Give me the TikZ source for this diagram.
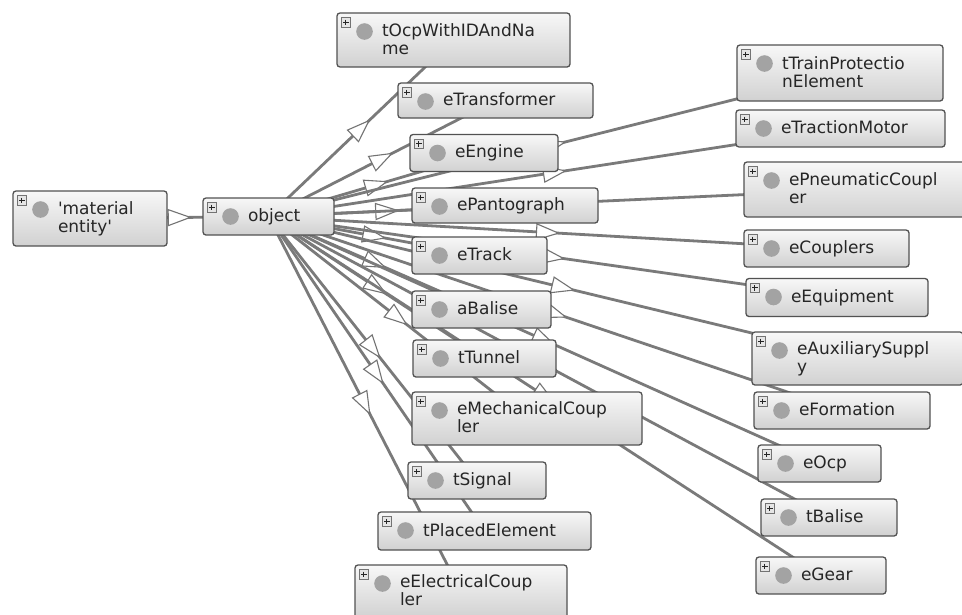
\documentclass[tikz,border=0pt]{standalone}
\usepackage{fontspec}
\newfontfamily\dv{DejaVu Sans}[Ligatures=TeXOff]
\usetikzlibrary{backgrounds,decorations.markings}
\newcommand{\zs}{\rule[-2pt]{0pt}{14pt}}
\newcommand{\nl}{\\\zs}
\newcommand{\ct}[2]{\hspace*{45pt}\parbox[c]{\dimexpr#1pt-45pt\relax}{\raggedright\zs #2}}
\tikzset{
  cls/.style={rectangle, rounded corners=3pt, draw=black!68, line width=1.3pt,
    top color=black!3, bottom color=black!18, inner sep=0pt,
    font={\dv\fontsize{17}{18}\selectfont}, text=black!85,
    path picture={
      \coordinate (pp) at (path picture bounding box.north west);
      \fill[black!36] ([shift={(27.5,18.5)}]pp) circle (8.3pt);
      \draw[sharp corners, black!55, fill=black!10, line width=0.6pt]
        ([shift={(4,4.5)}]pp) rectangle ([shift={(13.5,14)}]pp);
      \draw[sharp corners, black!85, line width=1pt]
        ([shift={(6,9.25)}]pp) -- ([shift={(11.5,9.25)}]pp)
        ([shift={(8.75,6.5)}]pp) -- ([shift={(8.75,12)}]pp);
    }},
  isa/.style={draw=black!52, line width=2.8pt, postaction={decorate},
    decoration={markings, mark=at position 0.5 with {
      \draw[black!55, fill=white, line width=1.1pt, line join=miter]
        (-11pt,-8pt) -- (11pt,0pt) -- (-11pt,8pt) -- cycle;}}}
}
\begin{document}
\begin{tikzpicture}[x=1pt,y=-1pt]
\useasboundingbox (0,0) rectangle (962,614);
% left and middle column
\node[cls, minimum width=154, minimum height=55] (me)   at (90,218.5)  {\ct{154}{'material\nl entity'}};
\node[cls, minimum width=131, minimum height=37] (obj)  at (268.5,216.5) {\ct{131}{object}};
\node[cls, minimum width=233, minimum height=54] (tocp) at (453.5,40)  {\ct{233}{tOcpWithIDAndNa\nl me}};
\node[cls, minimum width=195, minimum height=35] (etrf) at (495.5,100.5) {\ct{195}{eTransformer}};
\node[cls, minimum width=148, minimum height=37] (eeng) at (484,153)   {\ct{148}{eEngine}};
\node[cls, minimum width=186, minimum height=35] (epan) at (505,205.5) {\ct{186}{ePantograph}};
\node[cls, minimum width=135, minimum height=37] (etrk) at (479.5,255.5) {\ct{135}{eTrack}};
\node[cls, minimum width=139, minimum height=37] (abal) at (481.5,309.5) {\ct{139}{aBalise}};
\node[cls, minimum width=143, minimum height=37] (ttun) at (484.5,358.5) {\ct{143}{tTunnel}};
\node[cls, minimum width=230, minimum height=53] (emec) at (527,418.5) {\ct{230}{eMechanicalCoup\nl ler}};
\node[cls, minimum width=138, minimum height=37] (tsig) at (477,480.5) {\ct{138}{tSignal}};
\node[cls, minimum width=213, minimum height=38] (tpla) at (484.5,531) {\ct{213}{tPlacedElement}};
\node[cls, minimum width=212, minimum height=53] (eele) at (461,591.5) {\ct{212}{eElectricalCoup\nl ler}};
% right column
\node[cls, minimum width=206, minimum height=56] (ttra) at (840,73)    {\ct{206}{tTrainProtectio\nl nElement}};
\node[cls, minimum width=209, minimum height=37] (etra) at (840.5,128.5) {\ct{209}{eTractionMotor}};
\node[cls, minimum width=222, minimum height=55] (epne) at (855,189.5) {\ct{222}{ePneumaticCoupl\nl er}};
\node[cls, minimum width=165, minimum height=37] (ecou) at (826.5,248.5) {\ct{165}{eCouplers}};
\node[cls, minimum width=182, minimum height=38] (eequ) at (837,297.5) {\ct{182}{eEquipment}};
\node[cls, minimum width=211, minimum height=53] (eaux) at (857.5,358.5) {\ct{211}{eAuxiliarySuppl\nl y}};
\node[cls, minimum width=176, minimum height=37] (efor) at (842,410.5) {\ct{176}{eFormation}};
\node[cls, minimum width=123, minimum height=37] (eocp) at (819.5,463.5) {\ct{123}{eOcp}};
\node[cls, minimum width=136, minimum height=37] (tbal) at (829,517.5) {\ct{136}{tBalise}};
\node[cls, minimum width=130, minimum height=37] (egea) at (821,575.5) {\ct{130}{eGear}};
\begin{pgfonlayer}{background}
\fill[white] (0,0) rectangle (962,614);
\draw[isa] (me.center) -- (obj.center);
\foreach \b in {tocp,etrf,eeng,epan,etrk,abal,ttun,emec,tsig,tpla,eele,
                ttra,etra,epne,ecou,eequ,eaux,efor,eocp,tbal,egea}
  \draw[isa] (obj.center) -- (\b.center);
\end{pgfonlayer}
\end{tikzpicture}
\end{document}
